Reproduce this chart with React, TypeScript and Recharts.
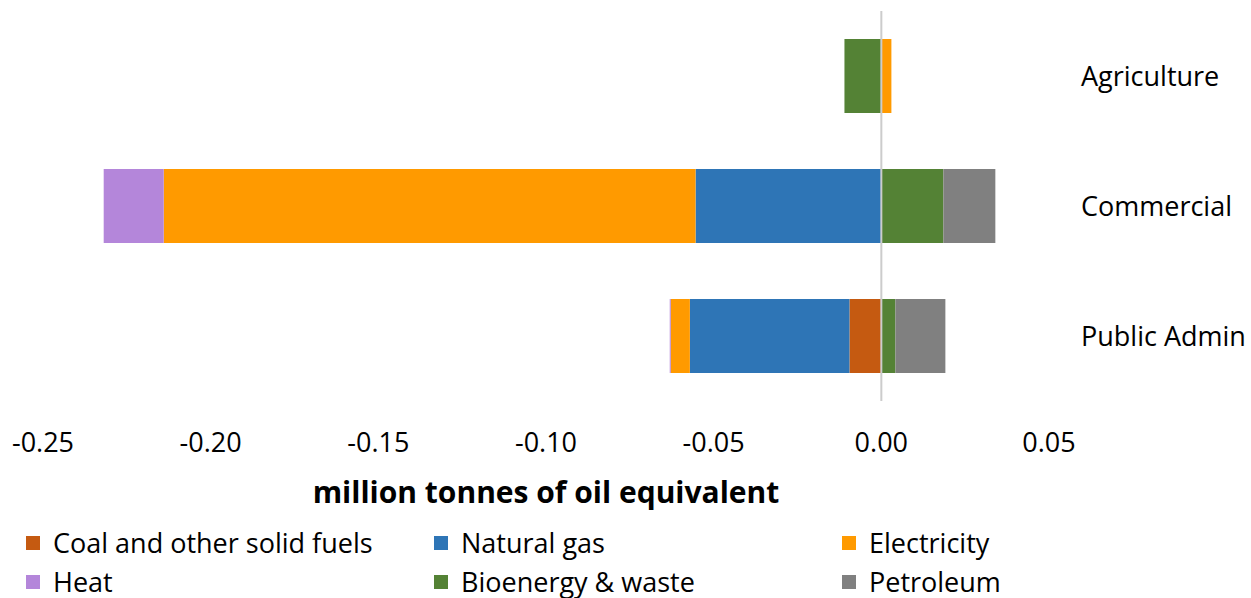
import React from 'react';
import { BarChart, Bar, XAxis, YAxis, ReferenceLine, Label } from 'recharts';

// Change in final energy consumption by fuel, per sector (million tonnes of oil equivalent)
const sectors = ['Agriculture', 'Commercial', 'Public Admin'];
const coal = [0, 0, -0.0095];
const naturalGas = [0, -0.0554, -0.0476];
const electricity = [0.003, -0.1586, -0.0057];
const heat = [0, -0.0179, -0.0003];
const bioenergy = [-0.011, 0.0185, 0.0042];
const petroleum = [0, 0.0155, 0.0149];

const xTicks = [-0.25, -0.2, -0.15, -0.1, -0.05, 0, 0.05];

const series = [
  { key: 'coal', name: 'Coal and other solid fuels', color: '#C55A11', values: coal },
  { key: 'gas', name: 'Natural gas', color: '#2E75B6', values: naturalGas },
  { key: 'electricity', name: 'Electricity', color: '#FF9A00', values: electricity },
  { key: 'heat', name: 'Heat', color: '#B486DA', values: heat },
  { key: 'bio', name: 'Bioenergy & waste', color: '#548235', values: bioenergy },
  { key: 'petroleum', name: 'Petroleum', color: '#808080', values: petroleum },
];

const data = sectors.map((sector, i) => {
  const row: Record<string, string | number> = { sector };
  series.forEach((s) => {
    row[s.key] = s.values[i];
  });
  return row;
});

const FONT = '"Open Sans", sans-serif';
const legendCols = [26, 434, 842];
const legendRows = [543, 582];

export default function App() {
  return (
    <div style={{ position: 'absolute', left: 0, top: 0, width: 1251, height: 598, background: '#fff', fontFamily: FONT, overflow: 'hidden' }}>
      <BarChart
        width={1251}
        height={598}
        data={data}
        layout="vertical"
        stackOffset="sign"
        barSize={74}
        margin={{ top: 11, right: 22, bottom: 95, left: 43 }}
      >
        <XAxis
          type="number"
          domain={[-0.25, 0.05]}
          ticks={xTicks}
          interval={0}
          tickFormatter={(v: number) => v.toFixed(2)}
          axisLine={false}
          tickLine={false}
          tickMargin={26}
          height={102}
          tick={{ fill: '#000', fontSize: 27, fontFamily: FONT }}
        >
          <Label
            value="million tonnes of oil equivalent"
            position="insideBottom"
            offset={0}
            style={{ fill: '#000', fontSize: 30, fontWeight: 700, fontFamily: FONT }}
          />
        </XAxis>
        <YAxis
          type="category"
          dataKey="sector"
          orientation="right"
          width={180}
          axisLine={false}
          tickLine={false}
          tickMargin={26}
          tick={{ fill: '#000', fontSize: 27, fontFamily: FONT, textAnchor: 'start' }}
        />
        {series.map((s) => (
          <Bar key={s.key} dataKey={s.key} name={s.name} stackId="a" fill={s.color} isAnimationActive={false} />
        ))}
        <ReferenceLine x={0} stroke="#cccccc" strokeWidth={2} />
      </BarChart>
      {series.map((s, i) => {
        const col = legendCols[i % 3];
        const row = legendRows[Math.floor(i / 3)];
        return (
          <div key={s.key} style={{ position: 'absolute', left: col, top: row - 18, height: 36, display: 'flex', alignItems: 'center' }}>
            <div style={{ width: 14, height: 14, background: s.color, marginRight: 13 }} />
            <span style={{ fontSize: 27, lineHeight: '36px', color: '#000', whiteSpace: 'nowrap' }}>{s.name}</span>
          </div>
        );
      })}
    </div>
  );
}
